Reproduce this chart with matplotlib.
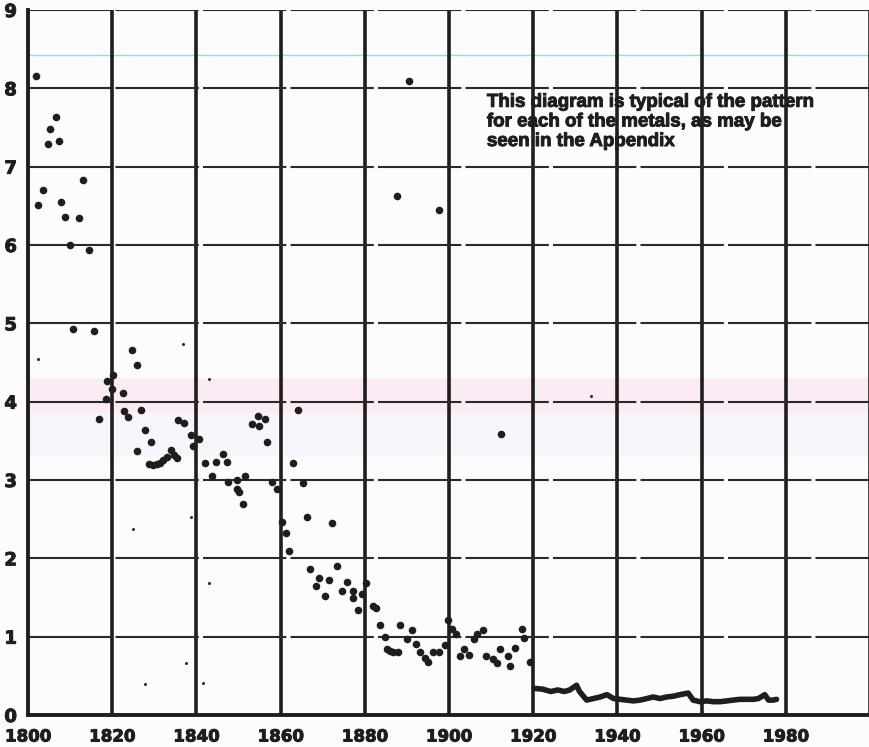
import numpy as np
import matplotlib
matplotlib.use("Agg")
import matplotlib.pyplot as plt
import matplotlib.transforms as mtransforms
import matplotlib.patheffects as pe

# scattered annual readings, 1800-1920 (large dots)
dot_years = [1802.0, 1806.7, 1805.2, 1804.7, 1807.4, 1813.1, 1803.6, 1802.3, 1807.8, 1808.8,
             1812.0, 1810.0, 1814.6, 1810.8, 1815.7, 1816.9,
             1824.7, 1826.0, 1820.1, 1818.7, 1820.0, 1822.6, 1818.5, 1826.8, 1822.8, 1823.8,
             1827.7, 1829.1, 1825.8,
             1828.8, 1829.7, 1830.6, 1831.4, 1832.1, 1833.1, 1834.0, 1834.7, 1835.3,
             1835.6, 1837.1, 1838.7, 1840.7, 1839.1, 1842.0, 1844.7, 1846.4, 1847.2, 1843.6,
             1847.6, 1849.6, 1851.5, 1849.7, 1850.2, 1851.1, 1857.9, 1859.1,
             1853.1, 1854.6, 1856.3, 1854.9, 1856.7, 1863.0, 1864.1,
             1860.3, 1861.3, 1862.1, 1865.3, 1866.2, 1872.1, 1867.1, 1869.2, 1868.4, 1871.6,
             1870.5, 1873.3, 1875.7, 1874.5, 1877.3, 1877.3, 1878.5, 1879.3, 1880.3,
             1882.0, 1882.6, 1883.6, 1884.8, 1885.2, 1886.0, 1886.8, 1888.0, 1888.4, 1890.0,
             1891.1, 1892.2, 1893.0, 1894.3, 1895.1, 1896.3, 1897.7, 1899.0, 1899.8,
             1900.6, 1901.7, 1902.6, 1903.6, 1904.8, 1906.0, 1906.6, 1908.1, 1908.9, 1910.5,
             1911.3, 1912.1, 1914.1, 1914.5, 1915.7, 1917.3, 1917.8, 1919.2,
             1890.5, 1887.7, 1897.6, 1912.4]
dot_values = [8.16, 7.64, 7.48, 7.29, 7.33, 6.83, 6.70, 6.51, 6.55, 6.36,
              6.34, 6.00, 5.94, 4.93, 4.90, 3.78,
              4.66, 4.47, 4.34, 4.26, 4.16, 4.11, 4.04, 3.90, 3.88, 3.80,
              3.64, 3.48, 3.37,
              3.20, 3.19, 3.21, 3.22, 3.25, 3.30, 3.38, 3.32, 3.28,
              3.76, 3.73, 3.57, 3.52, 3.44, 3.22, 3.23, 3.33, 3.23, 3.05,
              2.98, 3.00, 3.05, 2.89, 2.85, 2.70, 2.97, 2.89,
              3.72, 3.82, 3.78, 3.69, 3.48, 3.22, 3.89,
              2.47, 2.32, 2.09, 2.96, 2.53, 2.45, 1.87, 1.75, 1.65, 1.72,
              1.52, 1.90, 1.70, 1.58, 1.58, 1.49, 1.34, 1.55, 1.69,
              1.39, 1.37, 1.15, 1.00, 0.84, 0.82, 0.81, 0.80, 1.15, 0.97,
              1.09, 0.91, 0.80, 0.73, 0.68, 0.80, 0.80, 0.89, 1.21,
              1.10, 1.03, 0.75, 0.84, 0.77, 0.97, 1.04, 1.09, 0.75, 0.72,
              0.66, 0.84, 0.75, 0.63, 0.85, 1.10, 0.98, 0.68,
              8.10, 6.62, 6.45, 3.59]

# faint small dots
small_years = [1802.3, 1825.0, 1838.7, 1843.0, 1837.5, 1827.8, 1841.6, 1933.7, 1836.9, 1843.1]
small_values = [4.54, 2.37, 2.53, 1.69, 0.66, 0.40, 0.41, 4.07, 4.73, 4.29]

# continuous record after 1920
line_years = [1920.2, 1922.2, 1924.2, 1925.8, 1927.4, 1928.7, 1930.3, 1931.0, 1932.7, 1934.3,
              1935.9, 1937.5, 1939.1, 1940.7, 1942.2, 1943.8, 1945.4, 1947.0, 1948.5, 1950.1,
              1951.7, 1953.3, 1954.9, 1956.8, 1958.0, 1959.6, 1961.2, 1962.8, 1964.4, 1966.0,
              1967.5, 1969.1, 1970.7, 1972.3, 1973.5, 1975.0, 1975.9, 1977.0, 1977.8]
line_values = [0.34, 0.33, 0.30, 0.32, 0.30, 0.32, 0.38, 0.30, 0.19, 0.21,
               0.23, 0.26, 0.21, 0.20, 0.19, 0.18, 0.19, 0.21, 0.23, 0.21,
               0.23, 0.24, 0.26, 0.28, 0.19, 0.17, 0.18, 0.17, 0.17, 0.18,
               0.19, 0.20, 0.20, 0.20, 0.21, 0.26, 0.19, 0.19, 0.20]

x_ticks = [1800, 1820, 1840, 1860, 1880, 1900, 1920, 1940, 1960, 1980]
y_ticks = [0, 1, 2, 3, 4, 5, 6, 7, 8, 9]

note = ("This diagram is typical of the pattern\n"
        "for each of the metals, as may be\n"
        "seen in the Appendix")

ink = "#1e1e1e"
label_font = ["Liberation Sans Narrow", "DejaVu Sans"]
heavy = [pe.withStroke(linewidth=0.7, foreground=ink)]

fig = plt.figure(figsize=(8.7, 7.47), dpi=100)
fig.patch.set_facecolor("#fdfcfd")
ax = fig.add_axes([28 / 870, 32 / 747, 842 / 870, 705 / 747])
ax.set_facecolor("#fdfcfd")
ax.set_xlim(1800, 2000)
ax.set_ylim(0, 9)

# scan tint
ax.axhspan(3.85, 4.3, color="#f8e0f0", alpha=0.6, lw=0, zorder=0)
ax.axhspan(3.3, 3.85, color="#eef0fa", alpha=0.5, lw=0, zorder=0)
ax.axhline(8.43, color="#8fdcea", lw=1, zorder=0)

# grid
for x in x_ticks[1:] + [2000]:
    ax.axvline(x, color=ink, lw=2.6, zorder=1)
for y in y_ticks[1:]:
    ax.axhline(y, color="#2a2a2a", lw=1.5, dashes=(40, 2), zorder=1)

ax.scatter(dot_years, dot_values, s=30, color=ink, lw=0, zorder=3)
ax.scatter(small_years, small_values, s=5, color="#333333", lw=0, zorder=3)
ax.plot(line_years, line_values, color=ink, lw=4, solid_joinstyle="round",
        solid_capstyle="round", zorder=3)

ax.text(1909.0, 7.93, note, fontsize=13.5, fontweight="bold", color=ink,
        va="top", ha="left", linespacing=1.2, family=["Liberation Sans", "DejaVu Sans"],
        path_effects=heavy)

for s in ["top", "right"]:
    ax.spines[s].set_visible(False)
ax.spines["left"].set_linewidth(2.8)
ax.spines["bottom"].set_linewidth(2.8)
ax.spines["left"].set_color(ink)
ax.spines["bottom"].set_color(ink)

ax.set_xticks(x_ticks)
ax.set_yticks(y_ticks)
ax.set_xticklabels([str(v) for v in x_ticks], fontsize=12, fontweight="bold",
                   family=label_font, color=ink)
ax.set_yticklabels([str(v) for v in y_ticks], fontsize=13, fontweight="bold",
                   family=label_font, color=ink)
# year labels sit a little left of their grid lines in the original
shift = mtransforms.ScaledTranslation(-5 / 100, 0, fig.dpi_scale_trans)
for lbl in ax.get_xticklabels():
    lbl.set_transform(lbl.get_transform() + shift)
    lbl.set_path_effects(heavy)
for lbl in ax.get_yticklabels():
    lbl.set_path_effects(heavy)
ax.tick_params(length=0)
ax.tick_params(axis="x", pad=9)
ax.tick_params(axis="y", pad=8)

fig.savefig("out.png", dpi=100, facecolor=fig.get_facecolor())
